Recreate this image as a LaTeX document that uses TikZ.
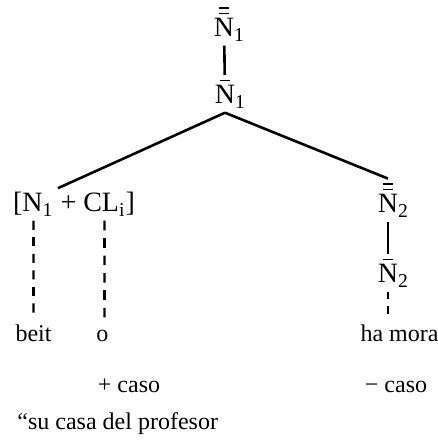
\documentclass[tikz,border=0pt]{standalone}
\usepackage{fontspec}
\setmainfont{Liberation Serif}
\usepackage{tikz}
\usetikzlibrary{positioning,calc}

\begin{document}
\begin{tikzpicture}[
    x=0.5pt, y=0.5pt,
    cat/.style={anchor=base, inner sep=2pt, font=\fontsize{14}{16}\selectfont},
    nbar/.style={cat, text height=12.3pt},
    nnbar/.style={cat, text height=15pt},
    word/.style={anchor=base, inner sep=2pt, font=\fontsize{12}{14}\selectfont},
    bar/.style={line width=0.8pt},
    branch/.style={line width=1.3pt},
    trace/.style={line width=1.1pt}
]
\useasboundingbox (0,0) rectangle (438,445);
% categories (the index is kept out of the width)
\node[nnbar] (top) at (224,408) {N\rlap{\textsubscript{1}}};
\node[nbar] (mid) at (225,341) {N\rlap{\textsubscript{1}}};
\node[cat] (brk) at (74,233) {[N\textsubscript{1} + CL\textsubscript{i}]};
\node[nnbar] (nbb2) at (388,232) {N\rlap{\textsubscript{2}}};
\node[nbar] (nb2) at (388,162) {N\rlap{\textsubscript{2}}};
% words
\node[word] (beit) at (33.5,104) {beit};
\node[word] (clit) at (102.5,104) {o};
\node[word] (hamora) at (399.5,104) {ha mora};
\node[word] (pcaso) at (129,53) {+ caso};
\node[word] (mcaso) at (396,53) {− caso};
\node[word, anchor=base west] (gloss) at (13,16) {``su casa del profesor};
% bars
\foreach \n in {top,mid,nbb2,nb2}
  \draw[bar] ([xshift=-2.5pt,yshift=11.8pt]\n.base) -- ++(5pt,0);
\foreach \n in {top,nbb2}
  \draw[bar] ([xshift=-2.5pt,yshift=14.6pt]\n.base) -- ++(5pt,0);
% branches
\draw[branch] (top) -- (mid);
\draw[branch] (mid.south) -- ([xshift=-8pt]brk.north);
\draw[branch] (mid.south) -- (nbb2.north);
\draw[branch] (nbb2) -- (nb2);
% traces, drawn as short strokes
\coordinate (tbeit) at (beit.north |- brk.south);
\coordinate (tclit) at ([xshift=1pt]clit.north |- brk.south);
\coordinate (bclit) at ([xshift=1pt]clit.north);
\coordinate (bmora) at (nb2.south |- hamora.north);
\foreach \a/\b/\k in {tbeit/beit.north/6, tclit/bclit/6, nb2.south/bmora/2}
  \foreach \i in {1,...,\k}
    \draw[trace] ($(\a)!{(\i-1)/\k}!(\b)$) -- ($(\a)!{(\i-0.45)/\k}!(\b)$);
\end{tikzpicture}
\end{document}
